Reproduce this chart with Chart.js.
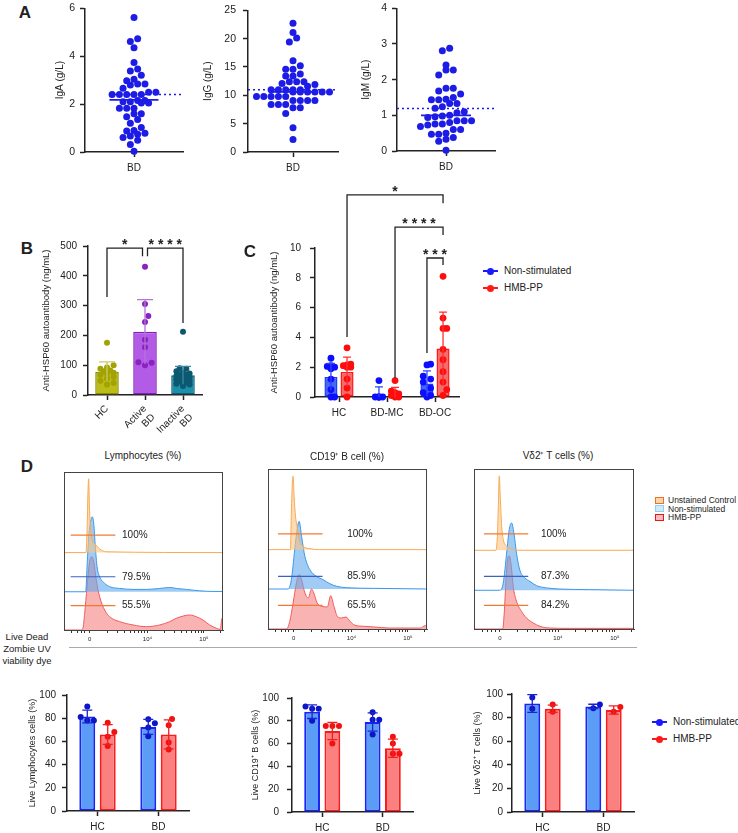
<!DOCTYPE html>
<html><head><meta charset="utf-8">
<script src="https://cdn.jsdelivr.net/npm/chart.js@4.4.1/dist/chart.umd.min.js"></script>
<style>
body{margin:0;background:#fff;width:738px;height:833px;position:relative;overflow:hidden;font-family:"Liberation Sans",Arial,Helvetica,sans-serif;color:#222}
canvas{position:absolute}
.t{position:absolute;white-space:nowrap;transform:translate(-50%,-50%);line-height:1}
.l{position:absolute;white-space:nowrap;transform:translate(0,-50%);line-height:1}
.shape{position:absolute;box-sizing:border-box}
</style></head><body>
<script>
// ---------------- DATA ----------------
// Panel A
const aCategory = ['BD'];
const igA = [5.62,4.73,4.61,4.35,3.74,3.47,3.38,3.2,3.04,2.97,2.84,2.84,2.8,2.66,2.5,2.5,2.4,2.4,2.4,2.4,2.4,2.15,2.15,2.1,2.1,2.05,2.05,1.83,1.83,1.83,1.6,1.6,1.47,1.36,1.2,1.02,0.9,0.88,0.78,0.74,0.67,0.61,0.49,0.31,0.03];
const igG = [22.7,21.1,20.1,19.4,16.1,15.2,14.6,14.6,13.75,13.4,13.4,12.4,12.4,12.4,12.1,11.9,11.6,11.0,11.0,11.0,11.0,11.0,10.6,10.6,10.6,10.6,10.6,10.6,9.8,9.8,9.8,9.8,9.8,9.1,9.1,9.1,9.1,8.4,8.4,8.4,7.8,7.8,6.8,4.26,2.2];
const igM = [2.88,2.81,2.41,2.27,2.27,2.13,1.76,1.76,1.68,1.6,1.5,1.45,1.44,1.44,1.33,1.33,1.24,1.2,1.1,1.07,1.0,0.98,0.96,0.94,0.85,0.85,0.85,0.8,0.76,0.76,0.73,0.69,0.6,0.6,0.5,0.47,0.47,0.38,0.33,0.27,0.02];
const igMedians = [2.18, 10.6, 1.0];
const igReference = [2.4, 11.0, 1.19];
const igTitles = ['IgA (g/L)', 'IgG (g/L)', 'IgM (g/L)'];

// Panel B
const bCategories = [['HC'], ['Active','BD'], ['Inactive','BD']];
const bMeans = [78, 212, 66];
const bSD = [33, 108, 30];
const bPointsHC = [175,100,92,88,82,80,75,72,68,60,55,48,40,35];
const bPointsActive = [430,305,265,245,185,160,110,108,100];
const bPointsInactive = [212,90,88,80,75,72,70,68,65,62,60,58,55,52,50,48,45,42,38,35,30];
const bTitle = 'Anti-HSP60 autoantibody (ng/mL)';

// Panel C
const seriesNames = ['Non-stimulated', 'HMB-PP'];
const cCategories = ['HC', 'BD-MC', 'BD-OC'];
const cMeansNS = [1.35, 0.18, 0.9];
const cSDNS = [0.9, 0.5, 0.85];
const cMeansHMB = [1.68, 0.25, 3.25];
const cSDHMB = [1.0, 0.4, 2.45];
const cPointsNS = [[2.6,2.1,2.05,2.0,1.9,1.2,0.5,0,0],[1.1,0,0,0,0,0],[2.2,2.15,1.4,1.2,1.0,0.6,0.3,0.1,0]];
const cPointsHMB = [[3.3,2.2,2.15,2.1,2.0,2.0,1.2,0.6,0],[1.1,0.4,0.3,0.2,0.1,0.1,0,0],[8.1,5.3,4.6,4.6,3.2,2.5,1.7,1.0,0.5,0.1]];
const cSignif = ['*', '****', '***'];

// Panel D histograms (x: display position % of axis, h: height % of panel)
const histTitles = ['Lymphocytes (%)', 'CD19\u207A B cell (%)', 'V\u03B42\u207A T cells (%)'];
const histLegend = ['Unstained Control', 'Non-stimulated', 'HMB-PP'];
const histTickLabels = ['0', '10\u2074', '10\u2075'];
const lymphGateLabels = ['100%', '79.5%', '55.5%'];
const cd19GateLabels = ['100%', '85.9%', '65.5%'];
const vd2GateLabels = ['100%', '87.3%', '84.2%'];
const lymphX_unstained = [0,13.8,14.5,15.1,15.5,16.1,17.2,19.3,22.4,26.6,100];
const lymphH_unstained = [0,0,14,39,46.7,26.6,9.8,5.6,2.3,0.5,0];
const lymphX_nonstim = [0,13.6,14.7,15.7,17.2,17.8,18.7,19.7,20.8,22.4,25.6,28.7,35,43.4,51.8,60.2,66.5,70.6,76.9,85.3,93.7,100];
const lymphH_nonstim = [0,0,20,36.8,46.3,47.4,43.2,28.4,15.8,9.5,5.3,3.2,2.1,1.5,1.5,2.1,2.7,2.1,1.5,0.6,0.2,0.2];
const lymphX_hmbpp = [0,10.9,11.9,13,14.5,15.7,16.6,17.6,18.7,20.3,22.4,25.6,28.7,35,43.4,51.8,60.2,66.5,70.6,74.8,79,83.2,87.4,91.6,95.8,98.3,99.4,100];
const lymphH_hmbpp = [0,0,1.1,10.5,27.4,40,45.3,46.3,43.2,31.6,21.1,12.6,8.4,5.3,3.2,2.1,3.2,5.3,7.4,8.8,9.5,8.4,6.3,3.2,1.1,0.4,7.4,6.3];
const cd19X_unstained = [0,14.1,14.7,15.4,15.8,16.4,17.3,18.3,19.6,22.1,26.3,32.6,100];
const cd19H_unstained = [0,0,22.9,43.8,45.8,33.3,20.8,14.6,6.3,2.1,0.6,0,0];
const cd19X_nonstim = [0,12.6,14.7,16.8,18.3,19.6,21.1,23.2,26.3,30.5,34.7,38.9,43.2,49.5,66.3,100];
const cd19H_nonstim = [0,0,5.8,24.6,37.1,42.3,32.9,20.4,12.1,7.9,5.8,3.3,1.7,0.8,0.4,0];
const cd19X_hmbpp = [0,11.6,13.7,15.8,17.9,19.6,21.1,23.2,25.3,27.4,28.8,30.9,33.7,37.3,39.4,41.5,43.6,46.3,49.1,51.6,54.7,60,66.3,76.8,95.8,98.9,100];
const cd19H_hmbpp = [0,0,4.8,16.3,28.8,34,30.8,22.5,19.4,25,22.5,16.3,14.2,13.8,20.8,14.2,7.9,6.9,7.5,4.8,2.3,1.7,1.3,0.6,0.6,2.1,1.7];
const vd2X_unstained = [0,13.7,14.6,15.2,15.8,16.4,17.3,18.3,20.4,23.5,28.7,100];
const vd2H_unstained = [0,0,8.75,27.5,46.5,33.8,15,6.7,2.5,0.8,0,0];
const vd2X_nonstim = [0,16.2,18.3,20.4,22,23.5,25,26.6,28.7,31.8,34.9,39.1,45.3,53.6,72.3,100];
const vd2H_nonstim = [0,0,4.6,23.3,37.9,42.1,35.4,22.9,12.5,7.7,5.6,2.9,1.5,0.8,0.4,0];
const vd2X_hmbpp = [0,17.9,18.9,20,21,22,23.3,24.5,26.6,29.7,32.8,37,41.2,47.4,59.9,100];
const vd2H_hmbpp = [0,0,10,30.8,43.3,45.8,39.2,26.7,17.3,11,6.9,3.8,1.7,0.6,0.4,0.4];

// Panel D bar charts
const dCategories = ['HC', 'BD'];
const dTitles = ['Live Lymphocytes cells (%)', 'Live CD19\u207A B cells (%)', 'Live V\u03B42\u207A T cells (%)'];
const lymphNS = [81.5, 72.5], lymphNSsd = [5.5, 6.5], lymphNSpts = [[90,81,78,78],[79,75.6,72,64.4]];
const lymphHMB = [66, 66], lymphHMBsd = [8.5, 12.5], lymphHMBpts = [[76,68,64,56],[79.4,74,59,53]];
const cd19NS = [88, 79], cd19NSsd = [6, 8], cd19NSpts = [[92.5,90.5,90.5,80],[87.5,81,81,68]];
const cd19HMB = [71, 56], cd19HMBsd = [7.5, 8], cd19HMBpts = [[75.5,75.5,75.5,60],[66,60,51,51]];
const vd2NS = [92, 89.5], vd2NSsd = [7.5, 1.8], vd2NSpts = [[97,87.5],[88,91]];
const vd2HMB = [87.5, 86.5], vd2HMBsd = [3, 3.5], vd2HMBpts = [[91,85],[89,85]];

// ---------------- HELPERS ----------------
const FONT = '"Liberation Sans", Arial, Helvetica, sans-serif';
Chart.defaults.font.family = FONT;
Chart.defaults.color = '#222';
Chart.defaults.animation = false;
Chart.defaults.plugins.legend.display = false;
Chart.defaults.plugins.tooltip.enabled = false;

// beeswarm for points drawn over bars
function swarm(pys, d, maxOff) {
  const order = pys.map((_, i) => i).sort((a, b) => pys[b] - pys[a]);
  const placed = [], off = new Array(pys.length).fill(0);
  const step = d / 2;
  for (const i of order) {
    let best = 0, bestScore = -1;
    for (let k = 0; k < 80; k++) {
      const c = (k % 2 ? 1 : -1) * Math.ceil(k / 2) * step;
      if (Math.abs(c) > maxOff + 0.01) continue;
      let minD = Infinity;
      for (const p of placed) { const dd = Math.hypot(p.x - c, p.y - pys[i]); if (dd < minD) minD = dd; }
      if (minD >= d) { best = c; bestScore = Infinity; break; }
      if (minD > bestScore) { bestScore = minD; best = c; }
    }
    off[i] = best + 0; placed.push({x: best, y: pys[i]});
  }
  return off;
}
// GraphPad-like row scatter: points within one row height are laid side by side
function rowScatter(pys, d) {
  const order = pys.map((_, i) => i).sort((a, b) => pys[b] - pys[a]);
  const off = new Array(pys.length).fill(0);
  let bin = [], start = null;
  const flush = () => { bin.forEach((idx, k) => { off[idx] = (k - (bin.length - 1) / 2) * d; }); bin = []; };
  for (const i of order) {
    if (start === null || start - pys[i] > d * 0.85) { flush(); start = pys[i]; }
    bin.push(i);
  }
  flush();
  return off;
}

function mk(box, m, config) {
  const pl = m.pl || 0;
  const c = document.createElement('canvas');
  const W = box[2] - box[0] + m.l + pl + m.r;
  const H = box[3] - box[1] + m.t + m.b;
  c.width = W; c.height = H;
  c.style.left = (box[0] - m.l - pl) + 'px'; c.style.top = (box[1] - m.t) + 'px';
  c.style.width = W + 'px'; c.style.height = H + 'px';
  document.body.appendChild(c);
  const o = config.options = config.options || {};
  o.responsive = false; o.maintainAspectRatio = false; o.devicePixelRatio = 1; o.animation = false;
  o.layout = {padding: {left: pl, top: m.t, right: m.r, bottom: 0}};
  const sc = o.scales;
  if (sc.y && sc.y.display !== false) sc.y.afterFit = s => { s.width = m.l; };
  if (sc.x) sc.x.afterFit = s => { s.height = m.b; };
  return new Chart(c, config);
}

function yAxis(min, max, step, title, fs, tfs, pad) {
  return {
    type: 'linear', min, max, position: 'left',
    ticks: {stepSize: step, font: {size: fs}, color: '#222', padding: pad},
    grid: {drawOnChartArea: false, drawTicks: true, tickLength: 5, tickWidth: 1.5, tickColor: '#222', color: '#222'},
    border: {display: true, color: '#222', width: 1.5},
    title: {display: !!title, text: title, font: {size: tfs}, color: '#222', padding: {top: 0, bottom: 0}}
  };
}
function catX(fs, pad, extra) {
  return {
    type: 'category', offset: true,
    grid: {offset: false, drawOnChartArea: false, drawTicks: true, tickLength: 5, tickWidth: 1.5, tickColor: '#222', color: '#222'},
    border: {display: true, color: '#222', width: 1.5},
    ticks: Object.assign({font: {size: fs}, color: '#222', padding: pad, maxRotation: 0, autoSkip: false}, extra || {})
  };
}

const barExtras = {
  id: 'barExtras',
  afterDatasetsDraw(chart) {
    const ctx = chart.ctx, ys = chart.scales.y;
    chart.data.datasets.forEach((ds, di) => {
      const meta = chart.getDatasetMeta(di);
      if (!ds.pts && !ds.sd) return;
      meta.data.forEach((bar, i) => {
        const cx = bar.x, w = bar.width;
        const col = k => Array.isArray(k) ? k[i] : k;
        if (ds.pts) {
          const py = ds.pts[i].map(v => ys.getPixelForValue(v));
          const off = swarm(py, ds.ptR * 2 + 0.6, ds.spread != null ? ds.spread : w / 2);
          ctx.save(); ctx.fillStyle = col(ds.ptColor);
          py.forEach((y, k) => { ctx.beginPath(); ctx.arc(cx + off[k], y, ds.ptR, 0, Math.PI * 2); ctx.fill(); });
          ctx.restore();
        }
        if (ds.sd) {
          const mv = ds.data[i], s = ds.sd[i];
          const y1 = ys.getPixelForValue(mv + s), y0 = ys.getPixelForValue(Math.max(0, mv - s));
          ctx.save(); ctx.strokeStyle = col(ds.errColor); ctx.lineWidth = ds.errWidth || 1.3;
          ctx.beginPath(); ctx.moveTo(cx, y0); ctx.lineTo(cx, y1);
          ctx.moveTo(cx - ds.cap, y1); ctx.lineTo(cx + ds.cap, y1);
          if (ds.capBoth) { ctx.moveTo(cx - ds.cap, y0); ctx.lineTo(cx + ds.cap, y0); }
          ctx.stroke(); ctx.restore();
        }
      });
    });
  }
};

const brackets = {
  id: 'brackets',
  afterDraw(chart, args, opts) {
    const ctx = chart.ctx, ys = chart.scales.y;
    (opts.items || []).forEach(it => {
      const xa = chart.getDatasetMeta(it.a[0]).data[it.a[1]].x + (it.a[2] || 0);
      const xb = chart.getDatasetMeta(it.b[0]).data[it.b[1]].x + (it.b[2] || 0);
      const yt = ys.getPixelForValue(it.top), ya = ys.getPixelForValue(it.ya), yb = ys.getPixelForValue(it.yb);
      ctx.save(); ctx.strokeStyle = '#222'; ctx.lineWidth = 1.3;
      ctx.beginPath(); ctx.moveTo(xa, ya); ctx.lineTo(xa, yt); ctx.lineTo(xb, yt); ctx.lineTo(xb, yb); ctx.stroke();
      const n = it.stars.length, sp = 9.3, cx = (xa + xb) / 2;
      ctx.font = 'bold 14px ' + FONT; ctx.textAlign = 'center'; ctx.textBaseline = 'alphabetic'; ctx.fillStyle = '#222';
      for (let k = 0; k < n; k++) ctx.fillText('*', cx + (k - (n - 1) / 2) * sp, yt + 1);
      ctx.restore();
    });
  }
};

const frame = {
  id: 'frame',
  afterDraw(chart, args, opts) {
    if (!opts.on) return;
    const a = chart.chartArea, ctx = chart.ctx;
    ctx.save(); ctx.strokeStyle = '#444'; ctx.lineWidth = 1;
    ctx.strokeRect(Math.round(a.left) + 0.5, Math.round(a.top) + 0.5, Math.round(a.right - a.left) - 1, Math.round(a.bottom - a.top));
    ctx.restore();
  }
};

const gates = {
  id: 'gates',
  afterDatasetsDraw(chart, args, opts) {
    if (!opts.items) return;
    const ctx = chart.ctx, xs = chart.scales.x, ys = chart.scales.y;
    opts.items.forEach(g => {
      const y = ys.getPixelForValue(g.y);
      ctx.save(); ctx.strokeStyle = g.color; ctx.lineWidth = 1.2;
      ctx.beginPath(); ctx.moveTo(xs.getPixelForValue(g.x0), y); ctx.lineTo(xs.getPixelForValue(g.x1), y); ctx.stroke();
      ctx.font = '10px ' + FONT; ctx.fillStyle = '#222'; ctx.textAlign = 'left'; ctx.textBaseline = 'middle';
      ctx.fillText(g.text, xs.getPixelForValue(g.tx), y);
      ctx.restore();
    });
  }
};
Chart.register(barExtras, brackets, frame, gates);

function txt(s, x, y, size, opts) {
  opts = opts || {};
  const d = document.createElement('div');
  d.className = opts.left ? 'l' : 't';
  d.textContent = s; d.style.left = x + 'px'; d.style.top = y + 'px'; d.style.fontSize = size + 'px';
  if (opts.bold) d.style.fontWeight = 'bold';
  document.body.appendChild(d);
}
function shape(x, y, w, h, css) {
  const d = document.createElement('div'); d.className = 'shape';
  d.style.left = x + 'px'; d.style.top = y + 'px'; d.style.width = w + 'px'; d.style.height = h + 'px';
  Object.assign(d.style, css); document.body.appendChild(d);
}

// ---------------- PANEL A ----------------
const BLUE = '#1c1ce6';
function igChart(box, ml, vals, ymax, step, title, med, ref, refFrom, medHalf, xmin, xmax, pad) {
  const ppu = (box[3] - box[1]) / ymax;
  const off = rowScatter(vals.map(v => -v * ppu), 7.3);
  mk(box, {l: ml, t: 8, r: 4, b: 24}, {
    type: 'scatter',
    data: {datasets: [
      {type: 'line', showLine: true, data: [{x: -medHalf, y: med}, {x: medHalf, y: med}], borderColor: BLUE, borderWidth: 1.8, pointRadius: 0, order: 0, clip: false},
      {type: 'line', showLine: true, data: [{x: refFrom, y: ref}, {x: xmax, y: ref}], borderColor: BLUE, borderWidth: 1.5, borderDash: [2, 3], pointRadius: 0, order: 1, clip: false},
      {data: vals.map((v, i) => ({x: off[i], y: v})), pointRadius: 3.5, backgroundColor: BLUE, borderWidth: 0, order: 2, clip: false}
    ]},
    options: {scales: {
      x: {type: 'linear', min: xmin, max: xmax,
        afterBuildTicks: s => { s.ticks = [{value: 0}]; },
        ticks: {callback: () => aCategory[0], font: {size: 10}, color: '#222', padding: 5, autoSkip: false, maxRotation: 0},
        grid: {drawOnChartArea: false, drawTicks: true, tickLength: 5, tickWidth: 1.5, tickColor: '#222'},
        border: {display: true, color: '#222', width: 1.5}},
      y: yAxis(0, ymax, step, title, 10.5, 10, pad)
    }}
  });
}
igChart([85, 5, 183, 152], 31, igA, 6, 2, igTitles[0], igMedians[0], igReference[0], -25, 24.5, -49, 49, 5);
igChart([248, 5, 338, 152], 46, igG, 25, 5, igTitles[1], igMedians[1], igReference[1], -45, 22, -45, 45, 7);
igChart([397, 5, 495, 151], 37, igM, 4, 1, igTitles[2], igMedians[2], igReference[2], -49, 25, -49, 49, 5);

// ---------------- PANEL B ----------------
mk([88, 246, 202, 395], {l: 47, t: 16, r: 8, b: 46}, {
  type: 'bar',
  data: {labels: bCategories, datasets: [{
    data: bMeans, sd: bSD,
    pts: [bPointsHC, bPointsActive, bPointsInactive],
    backgroundColor: ['#bcbc18', '#b25be6', '#1b90ab'],
    borderColor: ['#8f8f00', '#8420b8', '#0f5d72'], borderWidth: 1.5, borderSkipped: false,
    barPercentage: 0.62, categoryPercentage: 1,
    ptColor: ['#a2a200', '#8a22c0', '#0c5870'], ptR: 3, spread: 8,
    errColor: ['#c9c96a', '#b673d8', '#3b8aa0'], cap: 8
  }]},
  options: {
    scales: {x: catX(10, 3, {maxRotation: 45, minRotation: 45}), y: yAxis(0, 500, 100, bTitle, 10, 9.5, 6)},
    plugins: {brackets: {items: [
      {a: [0, 0, 0], b: [0, 1, -2.5], top: 493, ya: 329, yb: 466, stars: '*'},
      {a: [0, 1, 2.5], b: [0, 2, 0], top: 493, ya: 466, yb: 242, stars: '****'}
    ]}}
  }
});

// ---------------- PANEL C ----------------
mk([315, 248, 459, 397], {l: 46, t: 75, r: 10, b: 25}, {
  type: 'bar',
  data: {labels: cCategories, datasets: [
    {data: cMeansNS, sd: cSDNS, pts: cPointsNS, backgroundColor: '#4766f4', borderColor: '#1f3cff', borderWidth: 1.5, borderSkipped: false,
      barPercentage: 0.81, categoryPercentage: 0.67, ptColor: '#0d0dff', ptR: 3.4, spread: 6, errColor: '#2a46ff', cap: 4},
    {data: cMeansHMB, sd: cSDHMB, pts: cPointsHMB, backgroundColor: '#f56a6a', borderColor: '#ff1a1a', borderWidth: 1.5, borderSkipped: false,
      barPercentage: 0.81, categoryPercentage: 0.67, ptColor: '#ff0d0d', ptR: 3.4, spread: 6, errColor: '#ff3030', cap: 4}
  ]},
  options: {
    scales: {x: catX(10, 5), y: yAxis(0, 10, 2, bTitle, 10, 9.5, 9)},
    plugins: {brackets: {items: [
      {a: [1, 0, 0], b: [1, 2, 0], top: 13.56, ya: 4.03, yb: 13.0, stars: cSignif[0]},
      {a: [1, 1, 0], b: [1, 2, 0], top: 11.4, ya: 1.28, yb: 10.87, stars: cSignif[1]},
      {a: [0, 2, 0], b: [1, 2, 0], top: 9.33, ya: 2.95, yb: 8.86, stars: cSignif[2]}
    ]}}
  }
});

// ---------------- PANEL D HISTOGRAMS ----------------
const histMajor = [16.2, 52.5, 88];
const histTicks = (() => {
  const t = [5, 8.5, 11, 13.2].concat(histMajor);
  const dec = histMajor[2] - histMajor[1];
  for (let k = 2; k <= 9; k++) { t.push(histMajor[0] + (histMajor[1] - histMajor[0]) * Math.log10(k)); t.push(histMajor[1] + dec * Math.log10(k)); }
  t.push(histMajor[2] + dec * Math.log10(2)); t.push(histMajor[2] + dec * Math.log10(3));
  return t.filter(v => v <= 100);
})();
const histStyles = [
  {bc: '#f8aa52', fc: 'rgba(252,196,132,0.6)'},
  {bc: '#3a98ea', fc: 'rgba(96,168,236,0.6)'},
  {bc: '#f25a5a', fc: 'rgba(246,128,128,0.6)'}
];
function histChart(box, xs, hs, base, gateY, gateX, gateLabels, tx) {
  const datasets = [0, 1, 2].map(k => ({
    type: 'line', data: xs[k].map((x, i) => ({x, y: base[k] + hs[k][i]})),
    borderColor: histStyles[k].bc, backgroundColor: histStyles[k].fc, borderWidth: 1,
    pointRadius: 0, fill: {value: base[k]}, cubicInterpolationMode: 'monotone', order: k
  }));
  const gc = ['#f07a34', '#3a62c2', '#f07a34'];
  mk(box, {l: 0, pl: 8, t: 4, r: 8, b: 20}, {
    type: 'line',
    data: {datasets},
    options: {
      scales: {
        x: {type: 'linear', min: 0, max: 100,
          afterBuildTicks: s => { s.ticks = histTicks.map(v => ({value: v})); },
          ticks: {autoSkip: false, maxRotation: 0, font: {size: 6}, padding: 3, color: '#222',
            callback: v => { const j = histMajor.indexOf(v); return j >= 0 ? histTickLabels[j] : ''; }},
          grid: {drawOnChartArea: false, drawTicks: true, tickLength: 3, tickWidth: 1, tickColor: '#333'},
          border: {display: true, color: '#444', width: 1}},
        y: {type: 'linear', min: 0, max: 100, display: false}
      },
      plugins: {
        frame: {on: true},
        gates: {items: gateY.map((y, k) => ({y, x0: gateX[0], x1: gateX[1], color: gc[k], text: gateLabels[k], tx}))}
      }
    }
  });
}
histChart([64, 472, 223, 630],
  [lymphX_unstained, lymphX_nonstim, lymphX_hmbpp], [lymphH_unstained, lymphH_nonstim, lymphH_hmbpp],
  [49, 24.2, 0], [60, 33.7, 15.4], [4.2, 32.3], lymphGateLabels, 36.5);
histChart([268, 469, 427, 629],
  [cd19X_unstained, cd19X_nonstim, cd19X_hmbpp], [cd19H_unstained, cd19H_nonstim, cd19H_hmbpp],
  [49.6, 25, 0], [59.4, 32.9, 14.8], [6.3, 34.3], cd19GateLabels, 49.8);
histChart([474, 469, 634, 629],
  [vd2X_unstained, vd2X_nonstim, vd2X_hmbpp], [vd2H_unstained, vd2H_nonstim, vd2H_hmbpp],
  [49.2, 24.2, 0], [59.4, 32.9, 14.8], [6.2, 33.9], vd2GateLabels, 41.8);

// ---------------- PANEL D BARS ----------------
function dBar(box, ml, pad, title, ns, nsSD, nsPts, hmb, hmbSD, hmbPts) {
  mk(box, {l: ml, t: 8, r: 6, b: 25}, {
    type: 'bar',
    data: {labels: dCategories, datasets: [
      {data: ns, sd: nsSD, pts: nsPts, backgroundColor: '#5a9cf6', borderColor: '#1a24f5', borderWidth: 2, borderSkipped: false,
        barPercentage: 0.78, categoryPercentage: 0.67, ptColor: '#0c16c8', ptR: 3, spread: 7, errColor: '#1a24d0', cap: 5, capBoth: true},
      {data: hmb, sd: hmbSD, pts: hmbPts, backgroundColor: '#fb8080', borderColor: '#ff1a1a', borderWidth: 2, borderSkipped: false,
        barPercentage: 0.78, categoryPercentage: 0.67, ptColor: '#f21010', ptR: 3, spread: 7, errColor: '#f02020', cap: 5, capBoth: true}
    ]},
    options: {scales: {x: catX(10, 5), y: yAxis(0, 100, 20, title, 10, 9, pad)}}
  });
}
dBar([67, 691, 189, 811], 40, 6, dTitles[0], lymphNS, lymphNSsd, lymphNSpts, lymphHMB, lymphHMBsd, lymphHMBpts);
dBar([292, 692, 413, 812], 42, 8, dTitles[1], cd19NS, cd19NSsd, cd19NSpts, cd19HMB, cd19HMBsd, cd19HMBpts);
dBar([512, 692, 634, 812], 40, 4, dTitles[2], vd2NS, vd2NSsd, vd2NSpts, vd2HMB, vd2HMBsd, vd2HMBpts);

// ---------------- TEXT / LEGENDS ----------------
txt('A', 25, 12, 17, {bold: true});
txt('B', 27, 248, 17, {bold: true});
txt('C', 250, 251, 17, {bold: true});
txt('D', 27, 466, 17, {bold: true});
txt(histTitles[0], 143, 456, 10);
txt(histTitles[1], 347, 457, 10);
txt(histTitles[2], 558, 456, 10);
txt('Live Dead', 27, 637, 9.5);
txt('Zombie UV', 27, 649, 9.5);
txt('viability dye', 27, 661, 9.5);
shape(69, 647, 568, 1, {background: '#aaa'});

const legCols = ['#1a1aff', '#ff1a1a'];
function lineLegend(x0, ys, size) {
  seriesNames.forEach((name, k) => {
    shape(x0, ys[k] - 0.75, 15, 1.5, {background: legCols[k]});
    shape(x0 + 4, ys[k] - 3.5, 7, 7, {background: legCols[k], borderRadius: '50%'});
    txt(name, x0 + 21, ys[k], size, {left: true});
  });
}
lineLegend(483, [271, 288], 10);
lineLegend(652, [722, 739], 10);

const sqStyles = [
  {border: '1.5px solid #f07020', background: '#fcd6b0'},
  {border: '1.5px solid #90d0f2', background: '#cfeaf8'},
  {border: '1.5px solid #e81818', background: '#f8bcbc'}
];
histLegend.forEach((name, k) => {
  const y = [500, 508.5, 517][k];
  shape(655, y - 3.5, 9, 7, sqStyles[k]);
  txt(name, 668, y, 8.5, {left: true});
});
</script>
</body></html>
